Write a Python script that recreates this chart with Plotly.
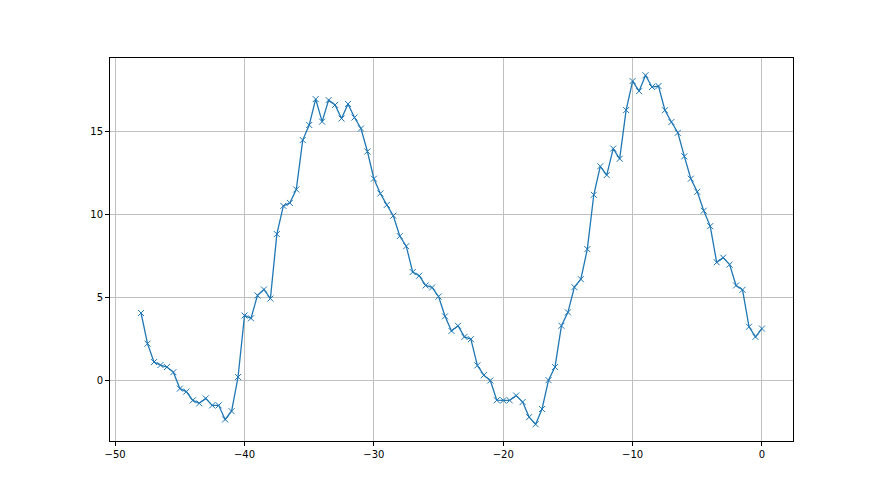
import plotly.graph_objects as go

# sample positions (step 0.5) and measured values
x_vals = [-48.0, -47.5, -47.0, -46.5, -46.0, -45.5, -45.0, -44.5, -44.0, -43.5,
          -43.0, -42.5, -42.0, -41.5, -41.0, -40.5, -40.0, -39.5, -39.0, -38.5,
          -38.0, -37.5, -37.0, -36.5, -36.0, -35.5, -35.0, -34.5, -34.0, -33.5,
          -33.0, -32.5, -32.0, -31.5, -31.0, -30.5, -30.0, -29.5, -29.0, -28.5,
          -28.0, -27.5, -27.0, -26.5, -26.0, -25.5, -25.0, -24.5, -24.0, -23.5,
          -23.0, -22.5, -22.0, -21.5, -21.0, -20.5, -20.0, -19.5, -19.0, -18.5,
          -18.0, -17.5, -17.0, -16.5, -16.0, -15.5, -15.0, -14.5, -14.0, -13.5,
          -13.0, -12.5, -12.0, -11.5, -11.0, -10.5, -10.0, -9.5, -9.0, -8.5,
          -8.0, -7.5, -7.0, -6.5, -6.0, -5.5, -5.0, -4.5, -4.0, -3.5,
          -3.0, -2.5, -2.0, -1.5, -1.0, -0.5, 0.0]
y_vals = [4.07, 2.22, 1.11, 0.93, 0.81, 0.50, -0.49, -0.67, -1.20, -1.38,
          -1.08, -1.50, -1.50, -2.35, -1.85, 0.21, 3.92, 3.75, 5.13, 5.49,
          4.94, 8.83, 10.53, 10.71, 11.52, 14.50, 15.41, 16.97, 15.61, 16.91,
          16.62, 15.80, 16.68, 15.86, 15.20, 13.81, 12.17, 11.28, 10.59, 9.94,
          8.71, 8.10, 6.54, 6.32, 5.73, 5.61, 5.06, 3.87, 2.99, 3.30,
          2.63, 2.49, 0.91, 0.32, 0.00, -1.19, -1.20, -1.20, -0.91, -1.30,
          -2.21, -2.64, -1.72, 0.02, 0.81, 3.30, 4.11, 5.63, 6.11, 7.92,
          11.20, 12.92, 12.39, 13.99, 13.37, 16.31, 18.06, 17.45, 18.41, 17.70,
          17.76, 16.30, 15.59, 14.94, 13.52, 12.17, 11.38, 10.24, 9.31, 7.13,
          7.41, 6.99, 5.73, 5.47, 3.24, 2.63, 3.13]

x_ticks = [-50, -40, -30, -20, -10, 0]
y_ticks = [0, 5, 10, 15]

fig = go.Figure()
fig.add_trace(go.Scatter(
    x=x_vals, y=y_vals, mode="lines+markers",
    line=dict(color="#1f77b4", width=1.3),
    marker=dict(symbol="x-thin", size=6, line=dict(color="#1f77b4", width=1)),
    showlegend=False,
))

axis_style = dict(
    showline=True, linecolor="black", linewidth=1, mirror=True,
    ticks="outside", ticklen=4, tickcolor="black",
    showgrid=True, gridcolor="#c0c0c0", gridwidth=0.8,
    zeroline=False, tickfont=dict(family="DejaVu Sans", size=10, color="black"),
)
fig.update_xaxes(range=[-50.4, 2.4], tickvals=x_ticks, **axis_style)
fig.update_yaxes(range=[-3.65, 19.45], tickvals=y_ticks, **axis_style)

# page body adds ~8px offset, so margins are shifted to compensate
fig.update_layout(
    width=880, height=495,
    margin=dict(l=102, r=95, t=50, b=62),
    paper_bgcolor="white", plot_bgcolor="white",
)

fig.write_html("out.html")
